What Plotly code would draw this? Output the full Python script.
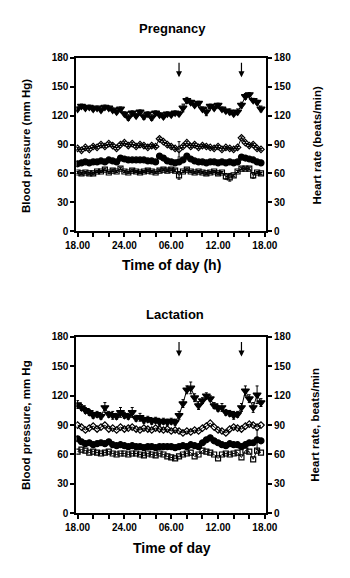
import plotly.graph_objects as go

W, H = 350, 578

# time in hours after 18:00, 30-min intervals
hours = [i * 0.5 for i in range(48)]
tick_hours = [0, 6, 12, 18, 24]
tick_text = ["18.00", "24.00", "06.00", "12.00", "18.00"]
minor_tick_hours = list(range(0, 25, 2))
y_ticks = [0, 30, 60, 90, 120, 150, 180]
arrow_hours = [13, 21]

# ---------------- Pregnancy ----------------
preg_hr = [127, 130, 128, 129, 127, 128, 126, 129, 128, 126, 124, 127,
           122, 118, 123, 120, 124, 119, 122, 118, 123, 121, 119, 122,
           121, 123, 122, 128, 136, 134, 131, 133, 127, 124, 130, 128,
           131, 127, 125, 124, 122, 124, 131, 140, 142, 136, 134, 127]
preg_hr_err = [2, 2, 2, 2, 2, 2, 2, 2, 2, 2, 2, 2,
               2, 3, 2, 2, 2, 3, 2, 3, 2, 2, 2, 2,
               2, 2, 2, 4, 3, 2, 2, 2, 2, 4, 2, 2,
               2, 2, 2, 3, 2, 3, 3, 3, 2, 2, 2, 3]
preg_sys = [86, 84, 87, 85, 88, 87, 90, 88, 91, 89, 86, 90,
            92, 89, 91, 88, 90, 89, 87, 89, 88, 96, 93, 90,
            88, 86, 85, 88, 92, 88, 90, 87, 89, 88, 87, 86,
            88, 85, 87, 86, 85, 87, 97, 92, 89, 90, 86, 85]
preg_sys_err = [1] * 26 + [8] + [1] * 21
preg_mean = [70, 71, 72, 71, 72, 72, 73, 72, 74, 73, 72, 76,
             75, 74, 74, 74, 74, 74, 73, 73, 72, 78, 76, 73,
             72, 71, 72, 74, 78, 75, 73, 72, 72, 71, 72, 72,
             71, 72, 71, 72, 71, 72, 77, 76, 75, 74, 72, 71]
preg_dia = [61, 60, 61, 60, 60, 62, 62, 64, 61, 63, 62, 65,
            62, 61, 63, 62, 61, 62, 63, 62, 61, 63, 64, 63,
            64, 63, 58, 62, 64, 62, 61, 62, 61, 60, 61, 62,
            60, 61, 57, 56, 58, 62, 65, 65, 65, 58, 61, 60]
preg_dia_err = [1] * 26 + [4] + [1] * 11 + [3, 4] + [1] * 5 + [3] + [1] * 2

# ---------------- Lactation ----------------
lact_hr = [111, 108, 105, 103, 100, 101, 99, 108, 101, 100, 99, 103,
           100, 99, 103, 97, 98, 95, 96, 94, 95, 93, 94, 93,
           94, 93, 100, 112, 126, 128, 118, 110, 115, 120, 117, 110,
           107, 108, 103, 102, 100, 101, 108, 125, 117, 108, 121, 113]
lact_hr_err = [4, 3, 3, 3, 3, 3, 3, 5, 3, 4, 3, 5,
               3, 3, 5, 3, 4, 3, 3, 3, 3, 3, 3, 3,
               3, 3, 4, 4, 4, 6, 4, 4, 3, 3, 3, 3,
               3, 4, 3, 3, 4, 3, 4, 5, 4, 5, 9, 4]
lact_sys = [90, 88, 85, 87, 89, 86, 88, 90, 86, 87, 85, 88,
            86, 87, 88, 86, 85, 87, 86, 85, 87, 86, 85, 86,
            84, 85, 84, 82, 84, 83, 85, 84, 87, 89, 92, 88,
            85, 84, 82, 86, 88, 87, 86, 89, 91, 90, 88, 90]
lact_mean = [76, 73, 71, 72, 70, 71, 72, 71, 73, 70, 69, 70,
             69, 68, 69, 68, 68, 67, 68, 68, 67, 68, 68, 68,
             68, 67, 68, 69, 68, 70, 69, 68, 72, 75, 77, 74,
             72, 70, 69, 71, 70, 70, 68, 70, 72, 72, 75, 74]
lact_mean_err = [2] * 46 + [10, 2]
lact_dia = [63, 65, 64, 62, 63, 62, 61, 62, 63, 61, 60, 61,
            61, 60, 61, 61, 60, 59, 61, 60, 59, 61, 60, 58,
            57, 56, 58, 60, 61, 62, 58, 60, 64, 63, 62, 60,
            56, 60, 61, 60, 61, 62, 57, 64, 63, 55, 64, 62]

FONT = "Liberation Sans"
fig = go.Figure()


def add_series(x, y, err, xa, ya, symbol, fill, size=6):
    fig.add_trace(go.Scatter(
        x=x, y=y, xaxis=xa, yaxis=ya, mode="lines+markers",
        line=dict(color="black", width=1),
        marker=dict(symbol=symbol if fill else symbol + "-open", size=size,
                    color="black", line=dict(color="black", width=1.2)),
        error_y=dict(type="data", array=err, visible=err is not None,
                     color="black", thickness=1, width=1.5),
        showlegend=False, hoverinfo="skip"))


# pregnancy: BP on y (left), HR on y2 (right)
add_series(hours, preg_dia, preg_dia_err, "x", "y", "square", False, 5)
add_series(hours, preg_mean, None, "x", "y", "circle", True)
add_series(hours, preg_sys, preg_sys_err, "x", "y", "diamond", False, 5)
add_series(hours, preg_hr, preg_hr_err, "x", "y2", "triangle-down", True, 7)
# lactation
add_series(hours, lact_dia, None, "x2", "y3", "square", False, 5)
add_series(hours, lact_mean, lact_mean_err, "x2", "y3", "circle", True)
add_series(hours, lact_sys, None, "x2", "y3", "diamond", False, 5)
add_series(hours, lact_hr, lact_hr_err, "x2", "y4", "triangle-down", True, 7)

tickfont = dict(family=FONT, size=10, color="black", weight="bold")

xcommon = dict(range=[-0.15, 24.15], tickvals=tick_hours, ticktext=tick_text,
               ticks="outside", ticklen=4, tickwidth=1.5, tickcolor="black",
               showline=True, linecolor="black", linewidth=2, mirror=True,
               showgrid=False, zeroline=False, tickfont=tickfont,
               minor=dict(tickvals=minor_tick_hours, ticks="outside",
                          ticklen=4, tickcolor="black", tickwidth=1.5))
ycommon = dict(range=[0, 180], tickvals=y_ticks, ticks="outside", ticklen=4,
               tickwidth=1.5, tickcolor="black", showline=True, linecolor="black",
               linewidth=2, showgrid=False, zeroline=False, tickfont=tickfont)

xdom = [70 / W, 273 / W]
top_dom = [1 - 230 / H, 1 - 53 / H]
bot_dom = [1 - 518 / H, 1 - 338 / H]

fig.update_layout(
    width=W, height=H, margin=dict(l=0, r=0, t=0, b=0),
    paper_bgcolor="white", plot_bgcolor="white",
    xaxis=dict(domain=xdom, anchor="y", **xcommon),
    yaxis=dict(domain=top_dom, anchor="x", side="left", **ycommon),
    yaxis2=dict(overlaying="y", anchor="x", side="right", **ycommon),
    xaxis2=dict(domain=xdom, anchor="y3", **xcommon),
    yaxis3=dict(domain=bot_dom, anchor="x2", side="left", **ycommon),
    yaxis4=dict(overlaying="y3", anchor="x2", side="right", **ycommon),
)

ann = []


def txt(x, y, s, angle=0, size=11):
    ann.append(dict(x=x / W, y=1 - y / H, xref="paper", yref="paper", text=s,
                    showarrow=False, textangle=angle,
                    font=dict(family=FONT, size=size, color="black", weight="bold"),
                    xanchor="center", yanchor="middle"))


txt(173, 23, "Pregnancy", size=13)
txt(172, 264, "Time of day (h)", size=14)
txt(16, 143, "Blood pressure (mm Hg)", -90, size=11.5)
txt(328, 142, "Heart rate (beats/min)", -90, size=11.5)
txt(175, 315, "Lactation", size=13)
txt(172, 553, "Time of day", size=14)
txt(16, 428, "Blood pressure, mm Hg", -90, size=11.5)
txt(326, 428, "Heart rate, beats/min", -90, size=11.5)

for xa, ya in (("x", "y"), ("x2", "y3")):
    for h in arrow_hours:
        ann.append(dict(x=h, y=160, xref=xa, yref=ya, text="", showarrow=True,
                        ax=0, ay=-16, arrowhead=2, arrowsize=1, arrowwidth=1.2,
                        arrowcolor="black"))

fig.update_layout(annotations=ann)
fig.write_html("out.html")
